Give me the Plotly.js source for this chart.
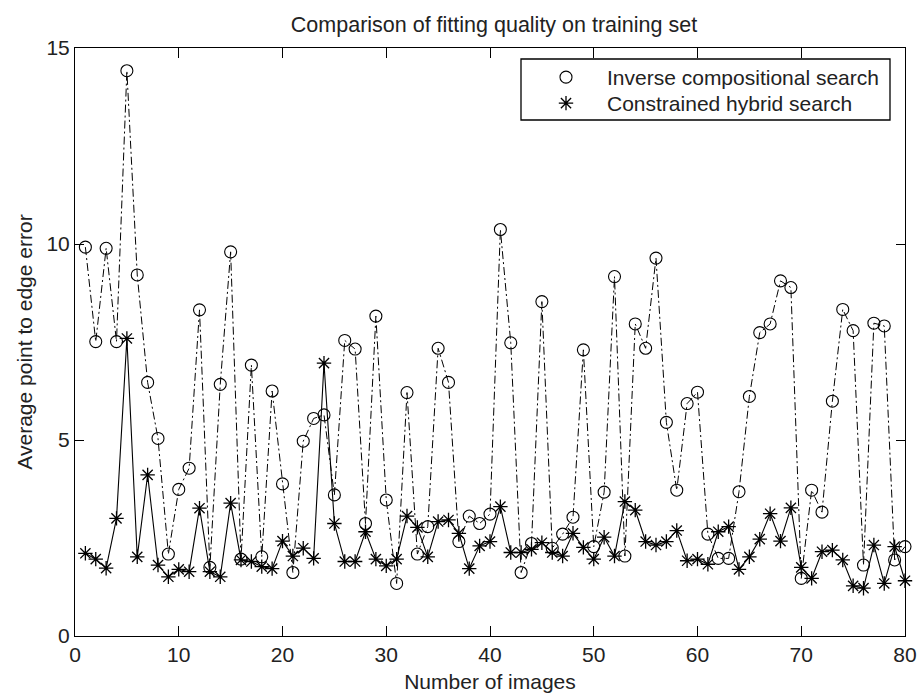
<!DOCTYPE html>
<html>
<head>
<meta charset="utf-8">
<script src="https://cdn.plot.ly/plotly-3.0.1.min.js"></script>
<style>html,body{margin:0;padding:0;background:#fff;}#chart{width:918px;height:693px;}</style>
</head>
<body>
<div id="chart"></div>
<script>
const imageIndex = Array.from({length: 80}, (_, i) => i + 1);
const inverseCompositional = [
  9.92, 7.51, 9.89, 7.51, 14.42, 9.21, 6.47, 5.04, 2.09, 3.74,
  4.28, 8.32, 1.75, 6.42, 9.80, 1.96, 6.91, 2.02, 6.25, 3.88,
  1.62, 4.97, 5.55, 5.64, 3.60, 7.54, 7.32, 2.87, 8.16, 3.47,
  1.34, 6.21, 2.09, 2.79, 7.34, 6.47, 2.41, 3.06, 2.87, 3.11,
  10.37, 7.48, 1.62, 2.36, 8.53, 2.24, 2.60, 3.03, 7.30, 2.28,
  3.67, 9.17, 2.04, 7.96, 7.34, 9.64, 5.45, 3.72, 5.93, 6.22,
  2.60, 1.98, 1.98, 3.68, 6.11, 7.74, 7.96, 9.06, 8.89, 1.47,
  3.72, 3.16, 5.99, 8.33, 7.79, 1.81, 7.98, 7.91, 1.94, 2.28
];
const constrainedHybrid = [
  2.11, 1.96, 1.73, 3.00, 7.59, 2.02, 4.11, 1.81, 1.51, 1.70,
  1.64, 3.26, 1.64, 1.51, 3.39, 1.94, 1.90, 1.77, 1.72, 2.42,
  2.04, 2.24, 1.98, 6.96, 2.87, 1.90, 1.90, 2.66, 1.96, 1.79,
  1.96, 3.06, 2.77, 2.02, 2.92, 2.96, 2.62, 1.72, 2.30, 2.41,
  3.30, 2.13, 2.13, 2.21, 2.38, 2.13, 2.04, 2.62, 2.26, 1.96,
  2.52, 2.04, 3.43, 3.21, 2.41, 2.32, 2.41, 2.69, 1.92, 1.96,
  1.83, 2.66, 2.79, 1.70, 2.02, 2.47, 3.12, 2.42, 3.27, 1.75,
  1.47, 2.15, 2.19, 1.94, 1.28, 1.22, 2.32, 1.34, 2.28, 1.41
];
const seriesNames = ["Inverse compositional search", "Constrained hybrid search"];
const xTicks = [0, 10, 20, 30, 40, 50, 60, 70, 80];
const yTicks = [0, 5, 10, 15];

const FONT = "Liberation Sans, Arial, Helvetica, sans-serif";
const circleMarker = {symbol: "circle-open", size: 12, color: "#000", line: {width: 1.1, color: "#000"}};
const starMarker = {symbol: "asterisk-open", size: 12, color: "#000", line: {width: 1.3, color: "#000"}};
const traces = [
  {
    x: imageIndex, y: inverseCompositional, type: "scatter", mode: "lines+markers",
    name: seriesNames[0], showlegend: false, cliponaxis: false,
    line: {color: "#000", width: 1, dash: "8px,3px,2px,3px"},
    marker: circleMarker
  },
  {
    x: imageIndex, y: constrainedHybrid, type: "scatter", mode: "lines+markers",
    name: seriesNames[1], showlegend: false, cliponaxis: false,
    line: {color: "#000", width: 1.1},
    marker: starMarker
  },
  {x: [null], y: [null], type: "scatter", mode: "markers", name: seriesNames[0], legend: "legend", marker: circleMarker},
  {x: [null], y: [null], type: "scatter", mode: "markers", name: seriesNames[1], legend: "legend2", marker: starMarker}
];

function legendAt(topPx) {
  return {
    x: (525 - 75) / 830, xanchor: "left", y: (636 - topPx) / 588, yanchor: "top",
    bgcolor: "rgba(0,0,0,0)", borderwidth: 0, itemwidth: 72,
    font: {family: FONT, size: 21, color: "#222"}
  };
}

const layout = {
  width: 918, height: 693,
  margin: {l: 75, r: 13, t: 48, b: 57},
  paper_bgcolor: "#fff", plot_bgcolor: "#fff",
  font: {family: FONT, size: 20, color: "#222"},
  title: {
    text: "Comparison of fitting quality on training set",
    font: {family: FONT, size: 21.5, color: "#222"},
    x: (494 - 75) / 830, xref: "paper", xanchor: "center",
    y: 1 - 24 / 693, yref: "container", yanchor: "middle"
  },
  xaxis: {
    range: [0, 80], tickvals: xTicks, ticktext: xTicks.map(String),
    ticks: "inside", ticklen: 10, tickwidth: 1, tickcolor: "#000",
    showline: true, linecolor: "#000", linewidth: 1, mirror: "ticks",
    showgrid: false, zeroline: false,
    tickfont: {family: FONT, size: 21, color: "#222"},
    title: {text: "Number of images", font: {family: FONT, size: 21, color: "#222"}, standoff: 9}
  },
  yaxis: {
    range: [0, 15], tickvals: yTicks, ticktext: yTicks.map(String),
    ticks: "inside", ticklen: 9, tickwidth: 1, tickcolor: "#000",
    showline: true, linecolor: "#000", linewidth: 1, mirror: "ticks",
    showgrid: false, zeroline: false,
    tickfont: {family: FONT, size: 21, color: "#222"},
    title: {text: "Average point to edge error", font: {family: FONT, size: 21, color: "#222"}, standoff: 8}
  },
  legend: legendAt(57),
  legend2: legendAt(83),
  shapes: [{
    type: "rect", xref: "paper", yref: "paper",
    x0: (521 - 75) / 830, x1: (890 - 75) / 830,
    y0: (636 - 120) / 588, y1: (636 - 59) / 588,
    line: {color: "#000", width: 1.3}, fillcolor: "rgba(0,0,0,0)"
  }],
  showlegend: true
};

Plotly.newPlot("chart", traces, layout, {displayModeBar: false, staticPlot: true});
</script>
</body>
</html>
